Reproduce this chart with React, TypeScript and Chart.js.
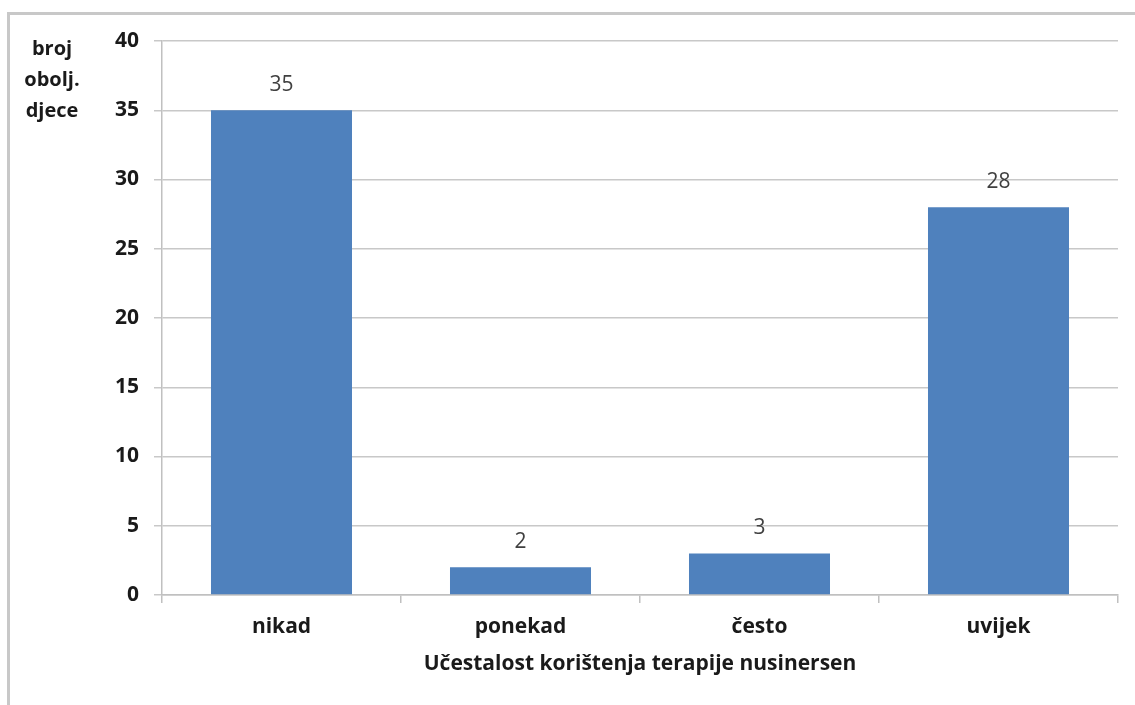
import React, { useEffect, useRef } from "react";
import { Chart, registerables } from "chart.js";

Chart.register(...registerables);

const categories = ["nikad", "ponekad", "često", "uvijek"];
const values = [35, 2, 3, 28];
const yTitleLines = ["broj", "obolj.", "djece"];
const xTitle = "Učestalost korištenja terapije nusinersen";

const FONT = "'Open Sans', sans-serif";

const extrasPlugin = {
  id: "extras",
  beforeDraw(chart: any) {
    const ctx = chart.ctx;
    ctx.save();
    ctx.fillStyle = "#ffffff";
    ctx.fillRect(0, 0, chart.width, chart.height);
    ctx.fillStyle = "#c8c8c8";
    ctx.fillRect(7, 12, chart.width - 7, 3);
    ctx.fillRect(7, 12, 3, chart.height - 12);
    ctx.restore();
  },
  afterDraw(chart: any) {
    const ctx = chart.ctx;
    ctx.save();
    ctx.fillStyle = "#1a1a1a";
    ctx.font = `bold 20px ${FONT}`;
    ctx.textAlign = "center";
    ctx.textBaseline = "middle";
    yTitleLines.forEach((t, i) => ctx.fillText(t, 52, 49 + i * 31));
    const area = chart.chartArea;
    ctx.font = `bold 21px ${FONT}`;
    ctx.fillText(xTitle, (area.left + area.right) / 2, 664);
    ctx.font = `21px ${FONT}`;
    ctx.fillStyle = "#404040";
    const meta = chart.getDatasetMeta(0);
    meta.data.forEach((bar: any, i: number) => {
      ctx.fillText(String(values[i]), bar.x, bar.y - 25);
    });
    ctx.restore();
  },
};

export default function App() {
  const ref = useRef<HTMLCanvasElement | null>(null);
  useEffect(() => {
    if (!ref.current) return;
    const chart = new Chart(ref.current, {
      type: "bar",
      data: {
        labels: categories,
        datasets: [
          {
            data: values,
            backgroundColor: "#4f81bd",
            borderWidth: 0,
            categoryPercentage: 0.59,
            barPercentage: 1,
          },
        ],
      },
      options: {
        responsive: false,
        animation: false,
        devicePixelRatio: 1,
        layout: { padding: { top: 41, right: 17, left: 0, bottom: 0 } },
        plugins: {
          legend: { display: false },
          tooltip: { enabled: false },
        },
        scales: {
          x: {
            afterFit: (s: any) => {
              s.height = 110;
            },
            grid: {
              display: true,
              drawOnChartArea: false,
              drawTicks: true,
              tickLength: 8,
              color: "#c0c0c0",
              lineWidth: 1.5,
            },
            border: { display: true, color: "#c0c0c0", width: 1.5 },
            ticks: {
              color: "#1a1a1a",
              font: { family: FONT, size: 21, weight: "bold" },
              padding: 11,
              maxRotation: 0,
            },
          },
          y: {
            min: 0,
            max: 40,
            afterFit: (s: any) => {
              s.width = 162;
            },
            grid: {
              color: "#c8c8c8",
              lineWidth: 1.5,
              drawTicks: true,
              tickLength: 8,
            },
            border: { display: true, color: "#c0c0c0", width: 1.5 },
            ticks: {
              stepSize: 5,
              color: "#1a1a1a",
              font: { family: FONT, size: 21, weight: "bold" },
              padding: 15,
            },
          },
        },
      },
      plugins: [extrasPlugin],
    });
    return () => chart.destroy();
  }, []);
  return (
    <div
      style={{
        position: "absolute",
        left: 0,
        top: 0,
        width: 1135,
        height: 705,
        overflow: "hidden",
        background: "#fff",
      }}
    >
      <canvas ref={ref} width={1135} height={705} style={{ width: 1135, height: 705, display: "block" }} />
    </div>
  );
}
